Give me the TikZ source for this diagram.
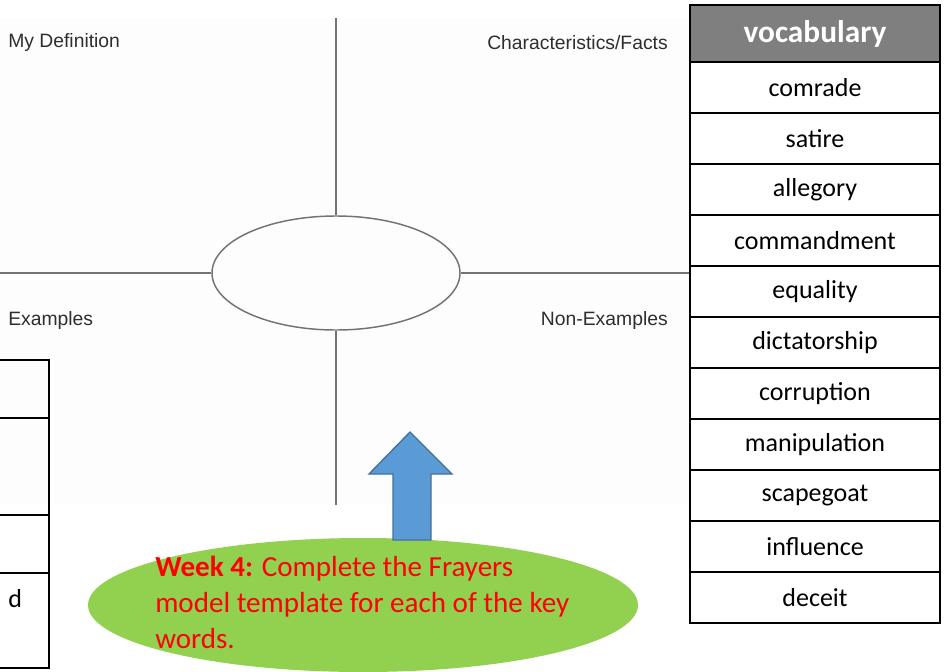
\documentclass[tikz,border=0pt]{standalone}
\usepackage{fontspec}
\setmainfont{Carlito}
\newfontfamily\arialfont{Liberation Sans}
\usetikzlibrary{positioning,shapes.geometric}

\definecolor{hdgray}{HTML}{7F7F7F}
\definecolor{linegray}{HTML}{737373}
\definecolor{labgray}{HTML}{2E2E2E}
\definecolor{arrowblue}{HTML}{5B9BD5}
\definecolor{arrowedge}{HTML}{41719C}
\definecolor{leafgreen}{HTML}{92D050}
\definecolor{weekred}{HTML}{FF0000}

\begin{document}
\begin{tikzpicture}[x=0.75pt, y=-0.75pt,
  cell/.style={draw, line width=1.5pt, minimum width=187.5pt, minimum height=38.25pt,
    inner sep=0pt, outer sep=0pt, font=\fontsize{19.5}{23}\selectfont},
  head/.style={cell, fill=hdgray, text=white, minimum height=42.75pt,
    font=\fontsize{23.5}{28}\selectfont\bfseries},
  oldcell/.style={draw, line width=1.5pt, minimum width=59.25pt, inner sep=0pt, outer sep=0pt},
  frame/.style={linegray, line width=1.1pt},
  tag/.style={labgray, inner sep=0pt, font=\arialfont\fontsize{14.5}{17}\selectfont}]
  \useasboundingbox (0,0) rectangle (949,671);

  % frayer model template
  \fill[gray!1.5] (0,18) rectangle (690,505);
  \node(mid)[ellipse, draw=linegray, line width=1.1pt, minimum width=186pt, minimum height=85.5pt] at (336,273) {};
  \coordinate(top) at (336,18);
  \coordinate(bot) at (336,505);
  \coordinate(lft) at (0,273);
  \coordinate(rgt) at (690,273);
  \draw[frame] (mid.north) -- (top);
  \draw[frame] (mid.south) -- (bot);
  \draw[frame] (mid.west) -- (lft);
  \draw[frame] (mid.east) -- (rgt);
  \node(def)[tag, anchor=west] at (8,43) {My Definition};
  \node(fact)[tag, anchor=east] at (668,43) {Characteristics/Facts};
  \node(ex)[tag, anchor=west] at (8,320) {Examples};
  \node(nonex)[tag, anchor=east] at (668,320) {Non-Examples};

  % vocabulary list
  \node(hd)[head] at (815,33.5) {vocabulary};
  \node(r1)[cell, below=0pt of hd] {comrade};
  \node(r2)[cell, below=0pt of r1] {satire};
  \node(r3)[cell, below=0pt of r2] {allegory};
  \node(r4)[cell, below=0pt of r3] {commandment};
  \node(r5)[cell, below=0pt of r4] {equality};
  \node(r6)[cell, below=0pt of r5] {dictatorship};
  \node(r7)[cell, below=0pt of r6] {corruption};
  \node(r8)[cell, below=0pt of r7] {manipulation};
  \node(r9)[cell, below=0pt of r8] {scapegoat};
  \node(r10)[cell, below=0pt of r9] {influence};
  \node(r11)[cell, below=0pt of r10] {deceit};

  % cut-off table on the left
  \node(c1)[oldcell, minimum height=43.5pt] at (9.5,389) {};
  \node(c2)[oldcell, minimum height=72.75pt, below=0pt of c1] {};
  \node(c3)[oldcell, minimum height=43.5pt, below=0pt of c2] {};
  \node(c4)[oldcell, minimum height=71.25pt, below=0pt of c3] {};
  \node(cd)[inner sep=0pt, font=\fontsize{19.5}{23}\selectfont, below left=12pt and 20pt of c4.north east] {d};

  % task bubble and arrow
  \node(task)[ellipse, fill=leafgreen, minimum width=412.5pt, minimum height=100.5pt] at (363,605) {};
  \draw[arrowedge, fill=arrowblue, line width=1pt]
    (393,540) -- (393,474) -- (369,474) -- (410,432) -- (452,474) -- (431,474) -- (431,540) -- cycle;
  \node(note)[anchor=north west, text=weekred, align=left, inner sep=0pt,
    font=\fontsize{21.8}{27}\selectfont] at (155,556)
    {\textbf{Week 4:} Complete the Frayers\\model template for each of the key\\words.};
\end{tikzpicture}
\end{document}
